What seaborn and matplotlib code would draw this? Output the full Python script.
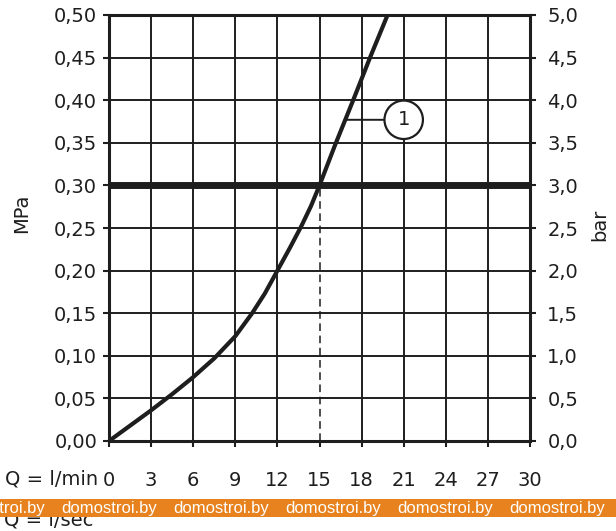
import matplotlib
matplotlib.use("Agg")
import matplotlib.pyplot as plt
from matplotlib.patches import Rectangle
import seaborn as sns
import pandas as pd

# curve 1: flow in l/min, pressure in MPa
flow_lpm = [0, 1.5, 3, 4.5, 6, 7.5, 9, 10.2, 11.1, 12, 12.9, 13.7, 14.4, 15,
            16.1, 17.4, 18.6, 19.85]
pressure_mpa = [0, 0.018, 0.036, 0.055, 0.075, 0.097, 0.123, 0.15, 0.173, 0.2,
                0.227, 0.252, 0.276, 0.3, 0.347, 0.4, 0.45, 0.5]

x_ticks = [0, 3, 6, 9, 12, 15, 18, 21, 24, 27, 30]
y_ticks = [0.00, 0.05, 0.10, 0.15, 0.20, 0.25, 0.30, 0.35, 0.40, 0.45, 0.50]
bar_ticks = [0.0, 0.5, 1.0, 1.5, 2.0, 2.5, 3.0, 3.5, 4.0, 4.5, 5.0]
lps_ticks = [0, 0.1, 0.2, 0.3, 0.4, 0.5]

limit_mpa = 0.30
limit_flow = 15
label_at = (16.9, 0.377)
label_circle = (21.0, 0.377)

watermark = "domostroi.by"

df = pd.DataFrame({"flow": flow_lpm, "pressure": pressure_mpa})

sns.set_theme(style="white")
plt.rcParams["font.family"] = ["DejaVu Sans"]
ink = "#1e1e1e"
fs = 14

fig = plt.figure(figsize=(6.16, 5.31), dpi=100)
ax = fig.add_axes([109 / 616, 1 - 441 / 531, 421 / 616, 426 / 531])

# grid
for x in x_ticks:
    if x == limit_flow:
        ax.plot([x, x], [limit_mpa, 0.5], color=ink, lw=1.4, zorder=1)
        ax.plot([x, x], [0, limit_mpa], color=ink, lw=1.1, ls=(0, (5, 3)), zorder=1)
    else:
        ax.axvline(x, color=ink, lw=1.4, zorder=1)
for y in y_ticks:
    ax.axhline(y, color=ink, lw=1.4, zorder=1)

ax.axhline(limit_mpa, color=ink, lw=5, zorder=2)

sns.lineplot(data=df, x="flow", y="pressure", ax=ax, color=ink, lw=3,
             solid_capstyle="round", solid_joinstyle="round", zorder=3)

ax.annotate("1", xy=label_at, xytext=label_circle, fontsize=fs, color=ink,
            ha="center", va="center",
            bbox=dict(boxstyle="circle,pad=0.5", fc="white", ec=ink, lw=1.6),
            arrowprops=dict(arrowstyle="-", color=ink, lw=1.4, shrinkA=0, shrinkB=0),
            zorder=4)

ax.set_xlim(0, 30)
ax.set_ylim(0, 0.5)
ax.set_xticks(x_ticks)
ax.set_xticklabels([str(v) for v in x_ticks])
ax.set_yticks(y_ticks)
ax.set_yticklabels([f"{v:.2f}".replace(".", ",") for v in y_ticks])
ax.set_xlabel("")
ax.set_ylabel("")
for s in ax.spines.values():
    s.set_linewidth(2.2)
    s.set_color(ink)
ax.tick_params(axis="both", direction="out", length=4.5, width=1.5, color=ink,
               labelsize=fs, labelcolor=ink)
ax.tick_params(axis="x", pad=17, bottom=True)
ax.tick_params(axis="y", pad=4, left=True)

ax2 = ax.twinx()
ax2.set_ylim(0, 5)
ax2.set_yticks(bar_ticks)
ax2.set_yticklabels([f"{v:.1f}".replace(".", ",") for v in bar_ticks])
ax2.grid(False)
for s in ax2.spines.values():
    s.set_visible(False)
ax2.tick_params(axis="y", direction="out", length=4.5, width=1.5, color=ink,
                labelsize=fs, labelcolor=ink, pad=8, right=True)

# second flow scale in l/s, mostly hidden by the watermark band
sec = ax.secondary_xaxis("bottom", functions=(lambda q: q / 60, lambda s: s * 60))
sec.set_xticks(lps_ticks)
sec.set_xticklabels(["0"] + [f"{v:.1f}".replace(".", ",") for v in lps_ticks[1:]])
sec.spines["bottom"].set_visible(False)
sec.tick_params(axis="x", length=0, pad=72, labelsize=fs, labelcolor=ink)

ax.text(-0.025, -38 / 426, "Q = l/min", transform=ax.transAxes, ha="right",
        va="center", fontsize=fs, color=ink)
ax.text(-0.25, -79 / 426, "Q = l/sec", transform=ax.transAxes, ha="left",
        va="center", fontsize=fs, color=ink)
ax.text(-0.207, 0.535, "MPa", transform=ax.transAxes, rotation=90,
        ha="center", va="center", fontsize=fs, color=ink)
ax.text(1.166, 0.507, "bar", transform=ax.transAxes, rotation=90,
        ha="center", va="center", fontsize=fs, color=ink)

# watermark band
fig.patches.append(Rectangle((0, 1 - 517 / 531), 1, 18 / 531, transform=fig.transFigure,
                             facecolor="#e8821e", edgecolor="none", zorder=10))
for k in range(-1, 6):
    fig.text((61 + 112 * k) / 616, 1 - 508 / 531, watermark, color="white",
             fontsize=12, family="Liberation Sans", ha="left", va="center", zorder=11)

fig.savefig("out.png", dpi=100)
